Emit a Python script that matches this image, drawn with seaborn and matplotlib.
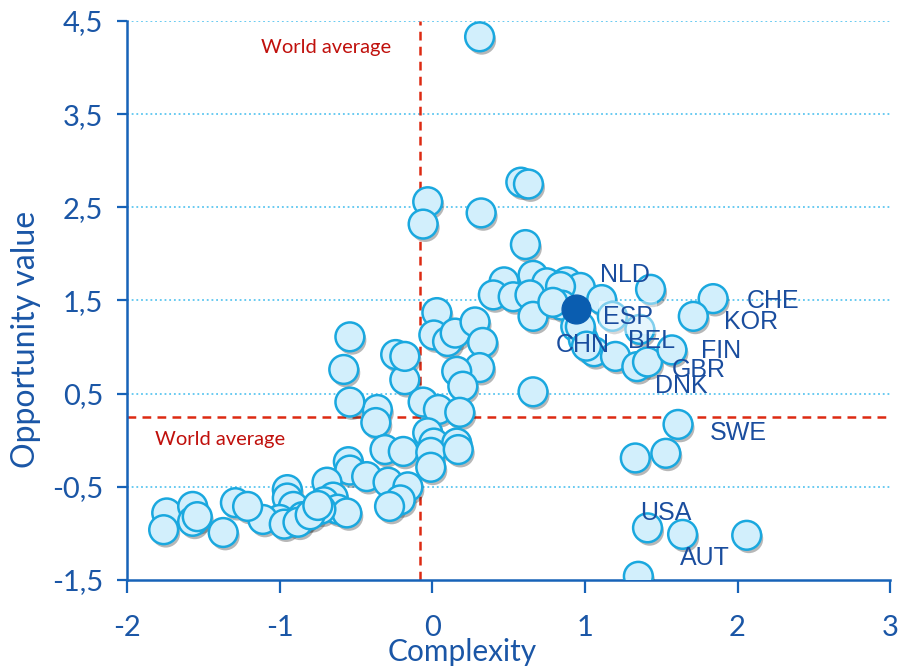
import matplotlib
matplotlib.use("Agg")
import matplotlib.pyplot as plt
import matplotlib.patheffects as pe
import seaborn as sns
import pandas as pd
from matplotlib.ticker import FuncFormatter, FixedLocator

# ---------------- data ----------------
complexity = [0.31, 0.58, 0.63, -0.03, -0.06, 0.32, 0.61, 0.66, 0.47, 0.75, 0.88, 0.97, 0.84,
              0.40, 0.53, 0.64, 0.66, 0.85, 1.11, 1.43, 1.18, 1.36, 0.94, 0.99, 1.06, 1.20,
              1.34, 1.41, 1.57, 1.84, 1.71, 0.03, 0.01, 0.10, 0.15, 0.28, 0.33, 0.31, 0.16,
              0.20, -0.18, -0.24, -0.18, 0.66, -0.06, 0.04, 0.18, -0.36, -0.37, -0.03, 0.01,
              0.16, 1.61, -0.54, -0.58, -0.54, -0.31, -0.19, -0.01, -0.01, 0.17, -0.55, -0.54,
              -0.43, -0.29, -0.16, -0.21, -0.28, -0.69, -0.65, -0.71, -0.62, -0.56, -0.95,
              -0.95, -0.91, -1.00, -1.11, -0.85, -0.73, -1.29, -1.21, -1.37, -1.74, -1.76,
              -1.57, -1.57, -1.54, 1.33, 1.53, 1.41, 1.64, 2.06, 1.35, -0.97, -0.88, -0.80,
              -0.75, 0.79, 0.97, 1.01]
opportunity = [4.33, 2.77, 2.75, 2.56, 2.32, 2.44, 2.10, 1.77, 1.70, 1.69, 1.70, 1.64, 1.65,
               1.56, 1.54, 1.56, 1.33, 1.45, 1.51, 1.62, 1.33, 1.19, 1.22, 1.08, 0.95, 0.90,
               0.79, 0.84, 0.97, 1.52, 1.33, 1.37, 1.13, 1.06, 1.15, 1.27, 1.05, 0.78, 0.74,
               0.58, 0.65, 0.92, 0.90, 0.52, 0.41, 0.33, 0.30, 0.33, 0.19, 0.08, -0.03,
               -0.03, 0.17, 1.11, 0.76, 0.41, -0.10, -0.12, -0.13, -0.29, -0.10, -0.23, -0.32,
               -0.39, -0.45, -0.50, -0.64, -0.71, -0.45, -0.61, -0.66, -0.74, -0.78, -0.53,
               -0.62, -0.71, -0.85, -0.85, -0.82, -0.74, -0.67, -0.71, -0.99, -0.78, -0.96,
               -0.71, -0.87, -0.82, -0.19, -0.14, -0.94, -1.01, -1.02, -1.46, -0.90, -0.88,
               -0.80, -0.70, 1.48, 1.22, 1.01]

highlight_x = [0.94]
highlight_y = [1.41]

country_labels = ["NLD", "ESP", "CHN", "BEL", "CHE", "KOR", "FIN", "GBR", "DNK", "SWE", "USA", "AUT"]
label_x = [1.10, 1.12, 0.81, 1.28, 2.06, 1.91, 1.76, 1.57, 1.46, 1.82, 1.36, 1.62]
label_y = [1.77, 1.32, 1.02, 1.06, 1.49, 1.27, 0.96, 0.75, 0.58, 0.08, -0.78, -1.26]

world_avg_x = -0.08
world_avg_y = 0.25

y_ticks = [-1.5, -0.5, 0.5, 1.5, 2.5, 3.5, 4.5]
x_ticks = [-2, -1, 0, 1, 2, 3]

df = pd.DataFrame({"Complexity": complexity, "Opportunity value": opportunity})
df_hi = pd.DataFrame({"Complexity": highlight_x, "Opportunity value": highlight_y})

# ---------------- style ----------------
sns.set_style("white")
plt.rcParams["font.family"] = ["Lato", "DejaVu Sans"]

AXIS_BLUE = "#1763b8"
TEXT_BLUE = "#1a56a6"
LABEL_BLUE = "#1a4d9e"
GRID_BLUE = "#5cc6f0"
RED = "#dd2a12"
RED_TEXT = "#c0100c"

fig = plt.figure(figsize=(9.01, 6.68), dpi=100)
ax = fig.add_axes([0.141, 0.1317, 0.847, 0.8369])

# gridlines
for yv in y_ticks[1:]:
    ax.axhline(yv, color=GRID_BLUE, lw=1.3, ls=(0, (1, 1.6)), zorder=0)

# world average lines
ax.axvline(world_avg_x, color=RED, lw=1.8, ls=(0, (3.5, 2.5)), zorder=1)
ax.axhline(world_avg_y, color=RED, lw=1.8, ls=(0, (3.5, 2.5)), zorder=1)

shadow = [pe.SimplePatchShadow(offset=(1.5, -2.5), alpha=0.35, shadow_rgbFace="#333333"), pe.Normal()]

sns.scatterplot(data=df, x="Complexity", y="Opportunity value", ax=ax,
                s=430, color="#d2effc", edgecolor="#1aa8df", linewidth=1.8, zorder=3)
for coll in ax.collections:
    coll.set_path_effects(shadow)

sns.scatterplot(data=df_hi, x="Complexity", y="Opportunity value", ax=ax,
                s=430, color="#0a5db0", edgecolor="#0a5db0", linewidth=1.0, zorder=5)

for name, lx, ly in zip(country_labels, label_x, label_y):
    kw = {}
    if name == "ESP":
        kw["bbox"] = dict(facecolor="white", alpha=0.45, edgecolor="none", pad=3)
    ax.text(lx, ly, name, fontsize=18, color=LABEL_BLUE, ha="left", va="center",
            family=["Liberation Sans", "DejaVu Sans"], zorder=6, **kw)

ax.text(-1.12, 4.21, "World average", color=RED_TEXT, fontsize=14.5, ha="left", va="center", zorder=6)
ax.text(-1.82, 0.01, "World average", color=RED_TEXT, fontsize=14.5, ha="left", va="center", zorder=6)

ax.set_xlim(-2, 3)
ax.set_ylim(-1.5, 4.5)
ax.yaxis.set_major_locator(FixedLocator(y_ticks))
ax.xaxis.set_major_locator(FixedLocator(x_ticks))
ax.yaxis.set_major_formatter(FuncFormatter(lambda v, p: f"{v:.1f}".replace(".", ",")))
ax.xaxis.set_major_formatter(FuncFormatter(lambda v, p: f"{int(round(v))}"))

for side in ["top", "right"]:
    ax.spines[side].set_visible(False)
for side in ["left", "bottom"]:
    ax.spines[side].set_color(AXIS_BLUE)
    ax.spines[side].set_linewidth(1.8)

ax.tick_params(axis="y", direction="out", length=7, width=1.6, color=AXIS_BLUE,
               labelcolor=TEXT_BLUE, labelsize=21, pad=10, left=True)
ax.tick_params(axis="x", direction="out", length=9, width=1.6, color=AXIS_BLUE,
               labelcolor=TEXT_BLUE, labelsize=21, pad=16, bottom=True)

ax.set_xlabel("Complexity", fontsize=21.5, color=TEXT_BLUE)
ax.set_ylabel("Opportunity value", fontsize=23, color=TEXT_BLUE)
ax.xaxis.set_label_coords(0.439, -0.104)
ax.yaxis.set_label_coords(-0.113, 0.43)

fig.savefig("out.png", dpi=100)
